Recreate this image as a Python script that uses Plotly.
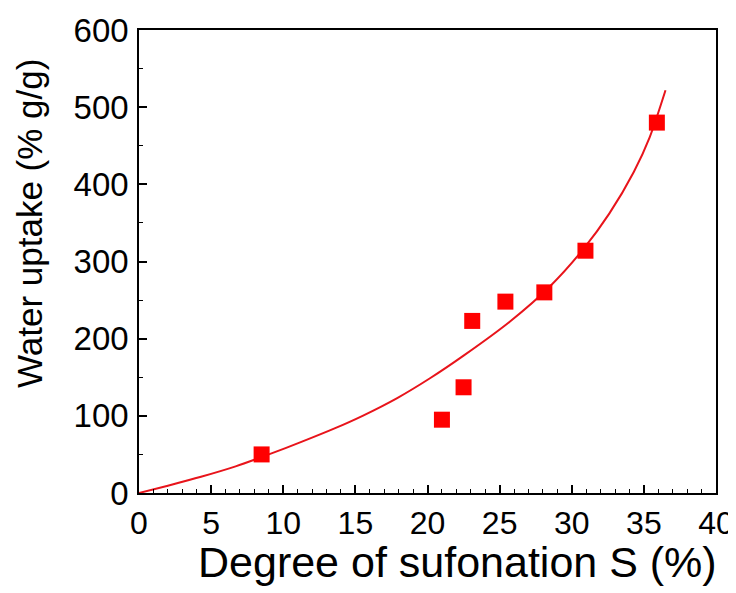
import plotly.graph_objects as go

# Measured data (degree of sulfonation %, water uptake % g/g)
ds_points = [8.5, 21.0, 22.5, 23.1, 25.4, 28.1, 30.95, 35.9]
wu_points = [50, 95, 137, 223, 248, 260, 314, 480]

# Fitted curve
fit_x = [0, 2.0, 4.3, 6.7, 9.0, 11.3, 13.6, 15.5, 17.9, 20.2, 22.5, 25.7, 28.5, 30.8, 32.6, 34.3, 35.4, 36.5]
fit_y = [0, 9.5, 21, 34.5, 50, 66.5, 84, 100, 123, 149, 178, 222, 268, 316, 362, 416, 461, 522]

x_ticks = [0, 5, 10, 15, 20, 25, 30, 35, 40]
y_ticks = [0, 100, 200, 300, 400, 500, 600]

FONT = "Liberation Sans, Arial, sans-serif"

fig = go.Figure()
fig.add_trace(go.Scatter(x=fit_x, y=fit_y, mode="lines",
                         line=dict(color="#e8141b", width=2, shape="spline", smoothing=0.8),
                         showlegend=False, hoverinfo="skip"))
fig.add_trace(go.Scatter(x=ds_points, y=wu_points, mode="markers",
                         marker=dict(symbol="square", size=16, color="#ff0000", line=dict(width=0)),
                         showlegend=False))

fig.update_layout(
    width=728, height=585,
    margin=dict(l=131, r=20, t=22, b=100, autoexpand=False),
    paper_bgcolor="white", plot_bgcolor="white",
    font=dict(family=FONT, color="black"),
    xaxis=dict(range=[0, 40], tickvals=x_ticks, ticks="inside", ticklen=8, tickwidth=1.5,
               tickcolor="black", showline=True, linecolor="black", linewidth=1.5, mirror=True,
               showgrid=False, zeroline=False, tickfont=dict(size=32, family=FONT),
               ticklabelstandoff=1, automargin=False,
               minor=dict(ticks="inside", ticklen=4, dtick=1, tickcolor="black", tickwidth=1.2, showgrid=False)),
    yaxis=dict(range=[0, 600], tickvals=y_ticks, ticks="inside", ticklen=8, tickwidth=1.5,
               tickcolor="black", showline=True, linecolor="black", linewidth=1.5, mirror=True,
               showgrid=False, zeroline=False, tickfont=dict(size=33, family=FONT),
               ticklabelstandoff=2, automargin=False,
               minor=dict(ticks="inside", ticklen=4, dtick=50, tickcolor="black", tickwidth=1.2, showgrid=False)),
    annotations=[
        dict(text="Degree of sufonation S (%)", xref="paper", yref="paper",
             x=(457.5 - 139) / 577, y=(493 - 562) / 463, xanchor="center", yanchor="middle",
             showarrow=False, font=dict(size=43, family=FONT, color="black")),
        dict(text="Water uptake (% g/g)", xref="paper", yref="paper",
             x=(29 - 139) / 577, y=(493 - 224) / 463, xanchor="center", yanchor="middle",
             textangle=-90, showarrow=False, font=dict(size=35, family=FONT, color="black")),
    ],
)

fig.write_html("out.html")
